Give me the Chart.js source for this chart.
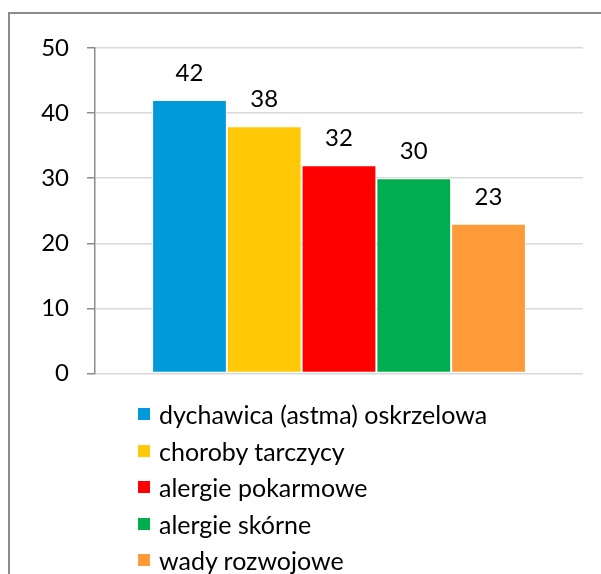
<!DOCTYPE html>
<html>
<head>
<meta charset="utf-8">
<script src="https://cdn.jsdelivr.net/npm/chart.js@4.4.1/dist/chart.umd.min.js"></script>
<style>
  body { margin: 0; background: #fff; width: 601px; height: 574px; overflow: hidden; position: relative; }
  #frame { position: absolute; left: 8px; top: 12px; width: 600px; height: 600px; border: 2px solid #8c8c8c; box-sizing: border-box; }
  #chart { position: absolute; left: 0; top: 0; }
  #legend { position: absolute; left: 138px; top: 396px; font-family: Lato, sans-serif; font-size: 25px; color: #000; }
  .item { height: 36.5px; display: flex; align-items: center; }
  .box { width: 12px; height: 12px; margin-right: 9px; }
</style>
</head>
<body>
<div id="frame"></div>
<canvas id="chart" width="601" height="406"></canvas>
<div id="legend"></div>
<script>
// Values
const categories = ['dychawica (astma) oskrzelowa', 'choroby tarczycy', 'alergie pokarmowe', 'alergie skórne', 'wady rozwojowe'];
const values = [42, 38, 32, 30, 23];
const colors = ['#009ADB', '#FFC908', '#FF0000', '#00AD4F', '#FF9A38'];
const yTicks = [0, 10, 20, 30, 40, 50];

const font = 'Lato, sans-serif';

// draw the value above each bar
const valueLabels = {
  id: 'valueLabels',
  afterDatasetsDraw(chart) {
    const ctx = chart.ctx;
    ctx.save();
    ctx.font = '24px ' + font;
    ctx.fillStyle = '#000';
    ctx.textAlign = 'center';
    ctx.textBaseline = 'middle';
    chart.data.datasets.forEach((ds, i) => {
      const bar = chart.getDatasetMeta(i).data[0];
      ctx.fillText(ds.data[0], bar.x, bar.y - 27);
    });
    ctx.restore();
  }
};

const chart = new Chart(document.getElementById('chart'), {
  type: 'bar',
  data: {
    labels: [''],
    datasets: categories.map((name, i) => ({
      label: name,
      data: [values[i]],
      backgroundColor: colors[i],
      borderColor: '#ffffff',
      borderWidth: 1,
      borderSkipped: false
    }))
  },
  options: {
    responsive: false,
    animation: false,
    devicePixelRatio: 1,
    layout: { padding: { left: 0, right: 18, top: 48, bottom: 20 } },
    datasets: { bar: { categoryPercentage: 0.766, barPercentage: 1.0 } },
    plugins: { legend: { display: false }, tooltip: { enabled: false } },
    scales: {
      x: { display: false },
      y: {
        min: 0,
        max: 50,
        afterBuildTicks(scale) { scale.ticks = yTicks.map(v => ({ value: v })); },
        afterFit(scale) { scale.width = 95; },
        border: { color: '#8c8c8c', width: 1.5 },
        grid: { color: '#d9d9d9', lineWidth: 1.5, tickColor: '#8c8c8c', tickLength: 8 },
        ticks: { color: '#000', padding: 18, font: { family: font, size: 24 } }
      }
    }
  },
  plugins: [valueLabels]
});

// vertical legend under the chart
const legend = document.getElementById('legend');
chart.data.datasets.forEach(ds => {
  const row = document.createElement('div');
  row.className = 'item';
  const box = document.createElement('span');
  box.className = 'box';
  box.style.background = ds.backgroundColor;
  const txt = document.createElement('span');
  txt.textContent = ds.label;
  row.appendChild(box);
  row.appendChild(txt);
  legend.appendChild(row);
});
</script>
</body>
</html>
